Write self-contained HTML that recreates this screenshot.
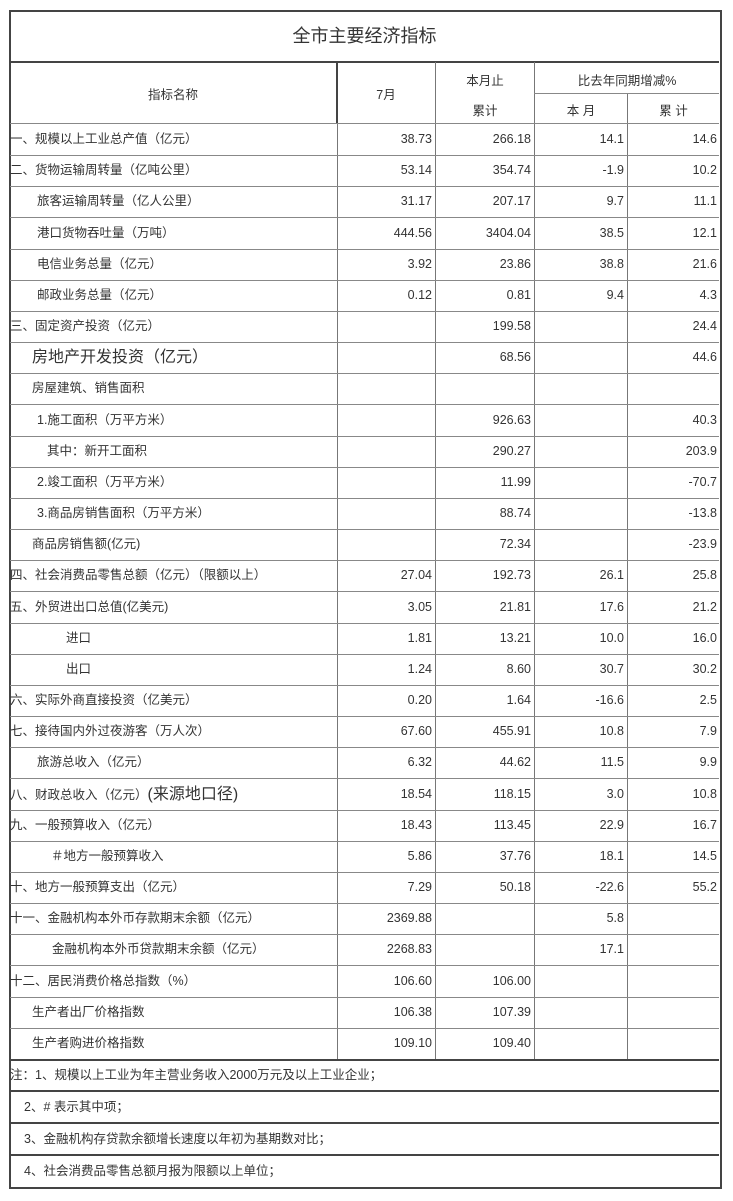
<!DOCTYPE html>
<html><head><meta charset="utf-8"><style>
body{margin:0;background:#fff;width:733px;height:1201px;position:relative;overflow:hidden;font-family:"Liberation Sans","Noto Sans CJK SC",sans-serif;font-size:12.5px;color:#333}
.box{position:absolute;left:9px;top:10px;width:709px;height:1175px;border:2px solid #444}
.h{position:absolute;background:#444}
.v{position:absolute;background:#777;width:1px}
.r{position:absolute;left:10px;width:709px;height:31px;border-bottom:1px solid #888;line-height:31px;white-space:nowrap}
.r i{font-style:normal;position:absolute;left:0}
.r b{font-weight:normal;position:absolute;text-align:right}
.c2{left:326px;width:96px}.c3{left:425px;width:96px}.c4{left:524px;width:90px}.c5{left:617px;width:90px}
.t{position:absolute;text-align:center}
.n{position:absolute;left:10px;width:709px;height:30px;border-bottom:2px solid #444;line-height:30px}
</style></head><body>
<div class="box"></div>
<div class="t" style="left:10px;width:709px;top:10px;height:52px;line-height:52px;font-size:18px">全市主要经济指标</div>
<div class="h" style="left:10px;top:61px;width:709px;height:2px"></div>
<div class="h" style="left:336px;top:62px;width:2px;height:62px"></div>
<div class="v" style="left:435px;top:62px;height:997px"></div>
<div class="v" style="left:534px;top:62px;height:997px"></div>
<div class="v" style="left:627px;top:93px;height:966px"></div>
<div class="v" style="left:337px;top:124px;height:935px"></div>
<div class="h" style="left:534px;top:93px;width:185px;height:1px;background:#888"></div>
<div class="h" style="left:10px;top:123px;width:709px;height:1px;background:#888"></div>
<div class="t" style="left:10px;width:326px;top:84px">指标名称</div>
<div class="t" style="left:337px;width:98px;top:84px">7月</div>
<div class="t" style="left:436px;width:98px;top:70px">本月止</div>
<div class="t" style="left:436px;width:98px;top:100px">累计</div>
<div class="t" style="left:535px;width:184px;top:70px">比去年同期增减%</div>
<div class="t" style="left:535px;width:92px;top:100px">本 月</div>
<div class="t" style="left:628px;width:91px;top:100px">累 计</div>

<div class="r" style="top:124px"><i>一、规模以上工业总产值（亿元）</i><b class="c2">38.73</b><b class="c3">266.18</b><b class="c4">14.1</b><b class="c5">14.6</b></div>
<div class="r" style="top:155px"><i>二、货物运输周转量（亿吨公里）</i><b class="c2">53.14</b><b class="c3">354.74</b><b class="c4">-1.9</b><b class="c5">10.2</b></div>
<div class="r" style="top:186px"><i style="left:27px">旅客运输周转量（亿人公里）</i><b class="c2">31.17</b><b class="c3">207.17</b><b class="c4">9.7</b><b class="c5">11.1</b></div>
<div class="r" style="top:218px"><i style="left:27px">港口货物吞吐量（万吨）</i><b class="c2">444.56</b><b class="c3">3404.04</b><b class="c4">38.5</b><b class="c5">12.1</b></div>
<div class="r" style="top:249px"><i style="left:27px">电信业务总量（亿元）</i><b class="c2">3.92</b><b class="c3">23.86</b><b class="c4">38.8</b><b class="c5">21.6</b></div>
<div class="r" style="top:280px"><i style="left:27px">邮政业务总量（亿元）</i><b class="c2">0.12</b><b class="c3">0.81</b><b class="c4">9.4</b><b class="c5">4.3</b></div>
<div class="r" style="top:311px"><i>三、固定资产投资（亿元）</i><b class="c3">199.58</b><b class="c5">24.4</b></div>
<div class="r" style="top:342px"><i style="left:22px;font-size:16px">房地产开发投资（亿元）</i><b class="c3">68.56</b><b class="c5">44.6</b></div>
<div class="r" style="top:373px"><i style="left:22px">房屋建筑、销售面积</i></div>
<div class="r" style="top:405px"><i style="left:27px">1.施工面积（万平方米）</i><b class="c3">926.63</b><b class="c5">40.3</b></div>
<div class="r" style="top:436px"><i style="left:37px">其中：新开工面积</i><b class="c3">290.27</b><b class="c5">203.9</b></div>
<div class="r" style="top:467px"><i style="left:27px">2.竣工面积（万平方米）</i><b class="c3">11.99</b><b class="c5">-70.7</b></div>
<div class="r" style="top:498px"><i style="left:27px">3.商品房销售面积（万平方米）</i><b class="c3">88.74</b><b class="c5">-13.8</b></div>
<div class="r" style="top:529px"><i style="left:22px">商品房销售额(亿元)</i><b class="c3">72.34</b><b class="c5">-23.9</b></div>
<div class="r" style="top:560px"><i>四、社会消费品零售总额（亿元）（限额以上）</i><b class="c2">27.04</b><b class="c3">192.73</b><b class="c4">26.1</b><b class="c5">25.8</b></div>
<div class="r" style="top:592px"><i>五、外贸进出口总值(亿美元)</i><b class="c2">3.05</b><b class="c3">21.81</b><b class="c4">17.6</b><b class="c5">21.2</b></div>
<div class="r" style="top:623px"><i style="left:56px">进口</i><b class="c2">1.81</b><b class="c3">13.21</b><b class="c4">10.0</b><b class="c5">16.0</b></div>
<div class="r" style="top:654px"><i style="left:56px">出口</i><b class="c2">1.24</b><b class="c3">8.60</b><b class="c4">30.7</b><b class="c5">30.2</b></div>
<div class="r" style="top:685px"><i>六、实际外商直接投资（亿美元）</i><b class="c2">0.20</b><b class="c3">1.64</b><b class="c4">-16.6</b><b class="c5">2.5</b></div>
<div class="r" style="top:716px"><i>七、接待国内外过夜游客（万人次）</i><b class="c2">67.60</b><b class="c3">455.91</b><b class="c4">10.8</b><b class="c5">7.9</b></div>
<div class="r" style="top:747px"><i style="left:27px">旅游总收入（亿元）</i><b class="c2">6.32</b><b class="c3">44.62</b><b class="c4">11.5</b><b class="c5">9.9</b></div>
<div class="r" style="top:779px"><i>八、财政总收入（亿元）<span style="font-size:16px">(来源地口径)</span></i><b class="c2">18.54</b><b class="c3">118.15</b><b class="c4">3.0</b><b class="c5">10.8</b></div>
<div class="r" style="top:810px"><i>九、一般预算收入（亿元）</i><b class="c2">18.43</b><b class="c3">113.45</b><b class="c4">22.9</b><b class="c5">16.7</b></div>
<div class="r" style="top:841px"><i style="left:41px">＃地方一般预算收入</i><b class="c2">5.86</b><b class="c3">37.76</b><b class="c4">18.1</b><b class="c5">14.5</b></div>
<div class="r" style="top:872px"><i>十、地方一般预算支出（亿元）</i><b class="c2">7.29</b><b class="c3">50.18</b><b class="c4">-22.6</b><b class="c5">55.2</b></div>
<div class="r" style="top:903px"><i>十一、金融机构本外币存款期末余额（亿元）</i><b class="c2">2369.88</b><b class="c4">5.8</b></div>
<div class="r" style="top:934px"><i style="left:42px">金融机构本外币贷款期末余额（亿元）</i><b class="c2">2268.83</b><b class="c4">17.1</b></div>
<div class="r" style="top:966px"><i>十二、居民消费价格总指数（%）</i><b class="c2">106.60</b><b class="c3">106.00</b></div>
<div class="r" style="top:997px"><i style="left:22px">生产者出厂价格指数</i><b class="c2">106.38</b><b class="c3">107.39</b></div>
<div class="r" style="top:1028px;border-bottom:2px solid #444"><i style="left:22px">生产者购进价格指数</i><b class="c2">109.10</b><b class="c3">109.40</b></div>

<div class="n" style="top:1060px">注：1、规模以上工业为年主营业务收入2000万元及以上工业企业；</div>
<div class="n" style="top:1092px;padding-left:14px;width:695px">2、# 表示其中项；</div>
<div class="n" style="top:1124px;padding-left:14px;width:695px">3、金融机构存贷款余额增长速度以年初为基期数对比；</div>
<div class="n" style="top:1156px;padding-left:14px;width:695px;border-bottom:none">4、社会消费品零售总额月报为限额以上单位；</div>
</body></html>
